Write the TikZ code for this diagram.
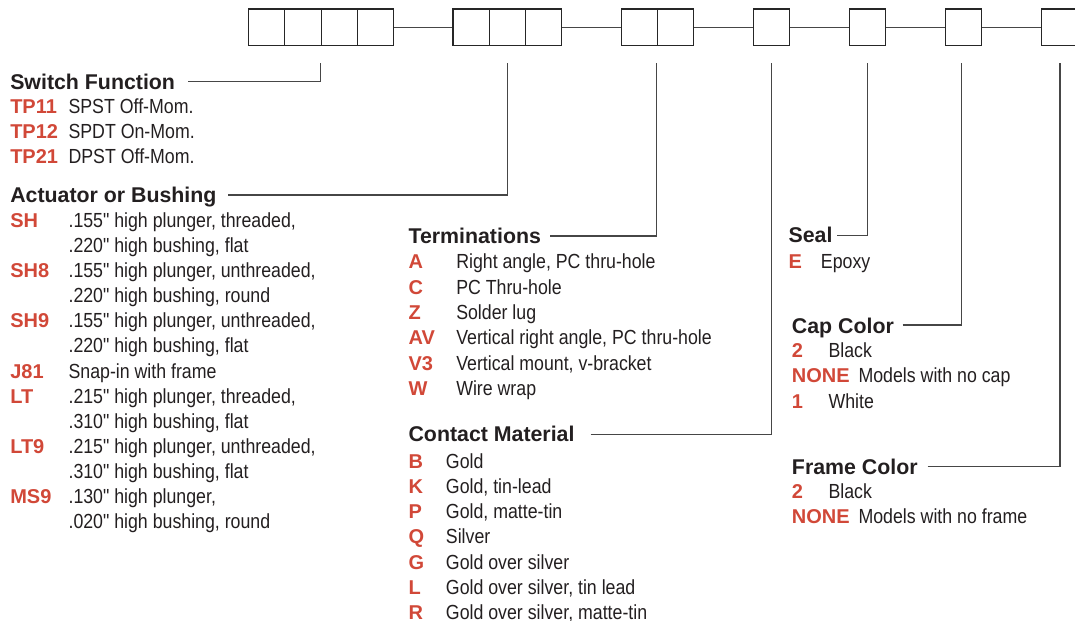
\documentclass[tikz,border=0pt]{standalone}
\usepackage{fontspec}
\setmainfont{Liberation Sans}
\newfontfamily\condfont[FakeStretch=0.87]{Liberation Sans}
\definecolor{codered}{RGB}{209,72,56}
\definecolor{tx}{RGB}{35,31,32}
\definecolor{ln}{RGB}{70,70,70}
\tikzset{
  body/.style={anchor=base west, inner sep=0pt, text=tx, font=\condfont\fontsize{15.3}{18}\selectfont},
  code/.style={anchor=base west, inner sep=0pt, text=codered, font=\bfseries\fontsize{15}{18}\selectfont},
  head/.style={anchor=base west, inner sep=0pt, text=tx, font=\bfseries\fontsize{16}{19}\selectfont},
  cell/.style={draw=black!85, line width=0.9pt, minimum width=27.2pt, minimum height=27.4pt, inner sep=0pt, anchor=north west},
  conn/.style={draw=ln, line width=0.9pt},
}
\begin{document}
\begin{tikzpicture}[x=0.75pt,y=-0.75pt]
\useasboundingbox (0,0) rectangle (1075,621);
% boxes
\node[cell] (g1a) at (248,8.3) {};
\node[cell] (g1b) at (284.25,8.3) {};
\node[cell] (g1c) at (320.5,8.3) {};
\node[cell] (g1d) at (356.75,8.3) {};
\node[cell] (g2a) at (452.3,8.3) {};
\node[cell] (g2b) at (488.5,8.3) {};
\node[cell] (g2c) at (524.7,8.3) {};
\node[cell] (g3a) at (620.7,8.3) {};
\node[cell] (g3b) at (656.7,8.3) {};
\node[cell] (b4) at (752.5,8.3) {};
\node[cell] (b5) at (848.5,8.3) {};
\node[cell] (b6) at (944.5,8.3) {};
\node[cell] (b7) at (1040.7,8.3) {};
\draw[conn] (g1d.east) -- (g2a.west);
\draw[conn] (g2c.east) -- (g3a.west);
\draw[conn] (g3b.east) -- (b4.west);
\draw[conn] (b4.east) -- (b5.west);
\draw[conn] (b5.east) -- (b6.west);
\draw[conn] (b6.east) -- (b7.west);
% tap points
\coordinate (t1) at (320.5,63);
\coordinate (t2) at (507.5,63);
\coordinate (t3) at (656.8,63);
\coordinate (t4) at (771.5,63);
\coordinate (t5) at (867.5,63);
\coordinate (t6) at (961.5,63);
\coordinate (t7) at (1060,63);
% line start points near headings
\coordinate (e1) at (188,81.7);
\coordinate (e2) at (228,195);
\coordinate (e3) at (550,236);
\coordinate (e4) at (590.7,434.3);
\coordinate (e5) at (837.3,235.5);
\coordinate (e6) at (902.7,325);
\coordinate (e7) at (927.7,466.7);
\draw[conn] (e1) -| (t1);
\draw[conn] (e2) -| (t2);
\draw[conn] (e3) -| (t3);
\draw[conn] (e4) -| (t4);
\draw[conn] (e5) -| (t5);
\draw[conn] (e6) -| (t6);
\draw[conn] (e7) -| (t7);
% Switch Function
\node[head] (sfh) at (10,89.3) {Switch Function};
\node[code] (sf1c) at (10,113.9) {TP11};
\node[body] (sf1d) at (68.3,113.9) {SPST Off-Mom.};
\node[code] (sf2c) at (10,138.9) {TP12};
\node[body] (sf2d) at (68.3,138.9) {SPDT On-Mom.};
\node[code] (sf3c) at (10,163.9) {TP21};
\node[body] (sf3d) at (68.3,163.9) {DPST Off-Mom.};
% Actuator
\node[head] (ach) at (10,202.6) {Actuator or Bushing};
\node[code] (ac1c) at (10,227.2) {SH};
\node[body] (ac1d) at (68.3,227.2) {.155" high plunger, threaded,};
\node[body] (ac2d) at (68.3,252.3) {.220" high bushing, flat};
\node[code] (ac3c) at (10,277.5) {SH8};
\node[body] (ac3d) at (68.3,277.5) {.155" high plunger, unthreaded,};
\node[body] (ac4d) at (68.3,302.6) {.220" high bushing, round};
\node[code] (ac5c) at (10,327.8) {SH9};
\node[body] (ac5d) at (68.3,327.8) {.155" high plunger, unthreaded,};
\node[body] (ac6d) at (68.3,352.9) {.220" high bushing, flat};
\node[code] (ac7c) at (10,378.0) {J81};
\node[body] (ac7d) at (68.3,378.0) {Snap-in with frame};
\node[code] (ac8c) at (10,403.2) {LT};
\node[body] (ac8d) at (68.3,403.2) {.215" high plunger, threaded,};
\node[body] (ac9d) at (68.3,428.3) {.310" high bushing, flat};
\node[code] (ac10c) at (10,453.5) {LT9};
\node[body] (ac10d) at (68.3,453.5) {.215" high plunger, unthreaded,};
\node[body] (ac11d) at (68.3,478.6) {.310" high bushing, flat};
\node[code] (ac12c) at (10,503.8) {MS9};
\node[body] (ac12d) at (68.3,503.8) {.130" high plunger,};
\node[body] (ac13d) at (68.3,528.9) {.020" high bushing, round};
% Terminations
\node[head] (teh) at (408.3,243.6) {Terminations};
\node[code] (te1c) at (408.3,268.9) {A};
\node[body] (te1d) at (456,268.9) {Right angle, PC thru-hole};
\node[code] (te2c) at (408.3,294.2) {C};
\node[body] (te2d) at (456,294.2) {PC Thru-hole};
\node[code] (te3c) at (408.3,319.5) {Z};
\node[body] (te3d) at (456,319.5) {Solder lug};
\node[code] (te4c) at (408.3,344.8) {AV};
\node[body] (te4d) at (456,344.8) {Vertical right angle, PC thru-hole};
\node[code] (te5c) at (408.3,370.1) {V3};
\node[body] (te5d) at (456,370.1) {Vertical mount, v-bracket};
\node[code] (te6c) at (408.3,395.4) {W};
\node[body] (te6d) at (456,395.4) {Wire wrap};
% Contact Material
\node[head] (cmh) at (408.3,441.9) {Contact Material};
\node[code] (cm1c) at (408.3,468.2) {B};
\node[body] (cm1d) at (445.7,468.2) {Gold};
\node[code] (cm2c) at (408.3,493.4) {K};
\node[body] (cm2d) at (445.7,493.4) {Gold, tin-lead};
\node[code] (cm3c) at (408.3,518.6) {P};
\node[body] (cm3d) at (445.7,518.6) {Gold, matte-tin};
\node[code] (cm4c) at (408.3,543.8) {Q};
\node[body] (cm4d) at (445.7,543.8) {Silver};
\node[code] (cm5c) at (408.3,569.0) {G};
\node[body] (cm5d) at (445.7,569.0) {Gold over silver};
\node[code] (cm6c) at (408.3,594.2) {L};
\node[body] (cm6d) at (445.7,594.2) {Gold over silver, tin lead};
\node[code] (cm7c) at (408.3,619.4) {R};
\node[body] (cm7d) at (445.7,619.4) {Gold over silver, matte-tin};
% Seal
\node[head] (seh) at (788.3,242.6) {Seal};
\node[code] (se1c) at (788.3,268.9) {E};
\node[body] (se1d) at (820.7,268.9) {Epoxy};
% Cap Color
\node[head] (cch) at (791.7,333.6) {Cap Color};
\node[code] (cc1c) at (791.7,357.2) {2};
\node[body] (cc1d) at (828.3,357.2) {Black};
\node[code] (cc2c) at (791.7,382.9) {NONE};
\node[body] (cc2d) at (858.3,382.9) {Models with no cap};
\node[code] (cc3c) at (791.7,408.9) {1};
\node[body] (cc3d) at (828.3,408.9) {White};
% Frame Color
\node[head] (fch) at (791.7,474.3) {Frame Color};
\node[code] (fc1c) at (791.7,498.2) {2};
\node[body] (fc1d) at (828.3,498.2) {Black};
\node[code] (fc2c) at (791.7,523.2) {NONE};
\node[body] (fc2d) at (858.3,523.2) {Models with no frame};
\end{tikzpicture}
\end{document}
